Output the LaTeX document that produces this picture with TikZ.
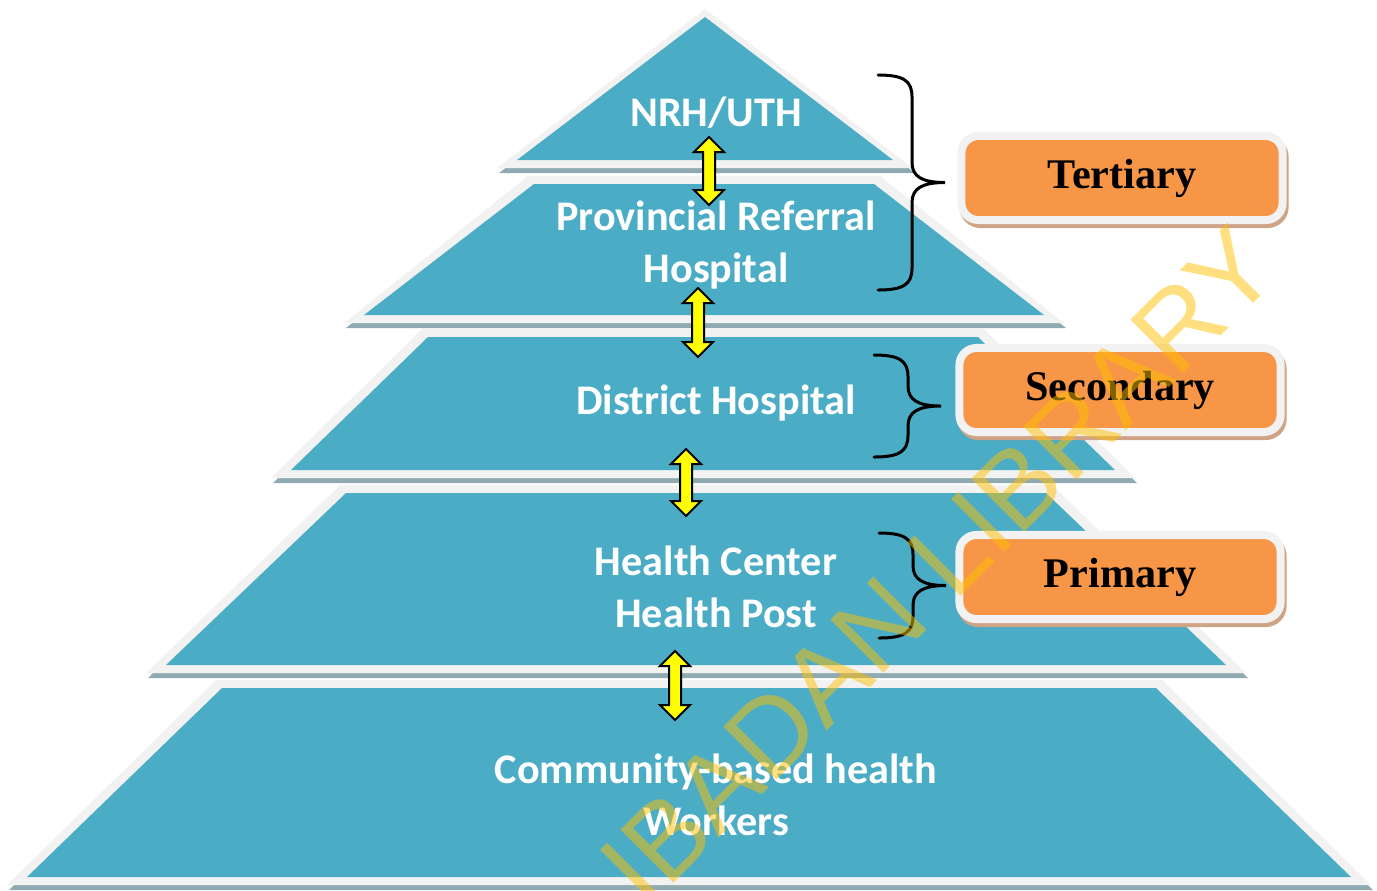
\documentclass[tikz,border=0pt]{standalone}
\usepackage{fontspec}
\setmainfont{Liberation Serif}
\newfontfamily\tierfont{Carlito}
\newfontfamily\markfont{Liberation Sans}
\usepackage{xcolor}
\definecolor{tierblue}{HTML}{4BACC6}
\definecolor{tierrim}{HTML}{F2F2F2}
\definecolor{tiershade}{HTML}{8FAAB1}
\definecolor{tagorange}{HTML}{F79646}
\definecolor{tagshade}{HTML}{CFA486}
\definecolor{linkyellow}{HTML}{FFFF00}
\definecolor{markgold}{HTML}{FFC000}
\usepackage{tikz}
\usetikzlibrary{calc}
\tikzset{
  tiertext/.style ={text=white, align=center, inner sep=0pt, font=\tierfont\bfseries\fontsize{12}{14.8}\selectfont},
  levelbox/.style ={rectangle, rounded corners=0.17cm, draw=tierrim, line width=0.08cm, fill=tagorange,
                    minimum width=3.21cm, minimum height=0.84cm, inner sep=0pt, text=black,
                    font=\bfseries\fontsize{12}{14}\selectfont,
                    preaction={draw=tagshade, fill=tagshade, line width=0.08cm,
                               transform canvas={shift={(0.02cm,-0.04cm)}}}},
  linkarrow/.style={draw=black, fill=linkyellow, line width=0.02cm, line join=miter},
  bracestroke/.style={draw=black, line width=0.03cm, line cap=round},
  watermark/.style={text=markgold, text opacity=0.5, inner sep=0pt, font=\markfont\fontsize{31}{31}\selectfont},
}
% yellow two-way block arrow between two named points (top tip, bottom tip)
\newcommand{\updown}[2]{%
  \draw[linkarrow] (#1) -- ++(15,15) -- ++(-9,0) -- ($(#2)+(6,-15)$) -- ++(9,0) -- (#2)
    -- ++(-15,-15) -- ++(9,0) -- ($(#1)+(-6,15)$) -- ++(-9,0) -- cycle;}
% curly brace: left end x, top y, bottom y
\newcommand{\levelbrace}[3]{%
  \pgfmathsetmacro\bmid{(#2+#3)/2}
  \draw[bracestroke] (#1,#2) .. controls ({#1+26},#2) and ({#1+34},{#2+6}) .. ({#1+34},{#2+22})
    -- ({#1+34},{\bmid-20}) .. controls ({#1+34},{\bmid-6}) and ({#1+44},\bmid) .. ({#1+67},\bmid)
    .. controls ({#1+44},\bmid) and ({#1+34},{\bmid+6}) .. ({#1+34},{\bmid+20})
    -- ({#1+34},{#3-22}) .. controls ({#1+34},{#3-6}) and ({#1+26},#3) .. (#1,#3);}

\begin{document}
\begin{tikzpicture}[x=0.01cm, y=-0.01cm]
  \useasboundingbox (0,0) rectangle (1377,890);

  % tiers: centre x / top y / bottom y / top half width / bottom half width
  \foreach \cx/\ty/\by/\th/\bh in {705/17/160/0/188, 704/184/315/170/340, 703/337/470/275/412,
                                   696/493/665/350/530, 689/688/877/467/662} {
    \pgfmathsetmacro\oth{\th>0 ? \th+6 : 0}
    \pgfmathsetmacro\obh{\bh+20}
    \fill[tiershade] ({\cx-\oth+2},{\ty-8+5}) -- ({\cx+\oth+2},{\ty-8+5})
      -- ({\cx+\obh+2},{\by+8+5}) -- ({\cx-\obh+2},{\by+8+5}) -- cycle;
    \fill[tierrim] ({\cx-\oth},{\ty-8}) -- ({\cx+\oth},{\ty-8})
      -- ({\cx+\obh},{\by+8}) -- ({\cx-\obh},{\by+8}) -- cycle;
    \fill[tierblue] ({\cx-\th},\ty) -- ({\cx+\th},\ty) -- ({\cx+\bh},\by) -- ({\cx-\bh},\by) -- cycle;
  }

  \node[tiertext] (nrh)  at (716,113) {NRH/UTH};
  \node[tiertext] (prov) at (716,245) {Provincial Referral\\Hospital};
  \node[tiertext] (dist) at (716,403) {District Hospital};
  \node[tiertext] (hc)   at (716,587) {Health Center\\Health Post};
  \node[tiertext] (chw)  at (716,795) {Community-based health\\Workers};

  \coordinate (l1t) at (709,137); \coordinate (l1b) at (709,205);
  \coordinate (l2t) at (698,288); \coordinate (l2b) at (698,357);
  \coordinate (l3t) at (686,449); \coordinate (l3b) at (686,516);
  \coordinate (l4t) at (675,651); \coordinate (l4b) at (675,720);
  \updown{l1t}{l1b}
  \updown{l2t}{l2b}
  \updown{l3t}{l3b}
  \updown{l4t}{l4b}

  \node[levelbox] (tert) at (1122,178) {Tertiary};
  \node[levelbox] (sec)  at (1120,390) {Secondary};
  \node[levelbox] (prim) at (1120,577) {Primary};

  \levelbrace{878}{75}{290}
  \levelbrace{874}{355}{457}
  \levelbrace{879}{533}{638}

  \node[watermark, rotate=45] (mark) at (938,566) {IBADAN LIBRARY};
\end{tikzpicture}
\end{document}
